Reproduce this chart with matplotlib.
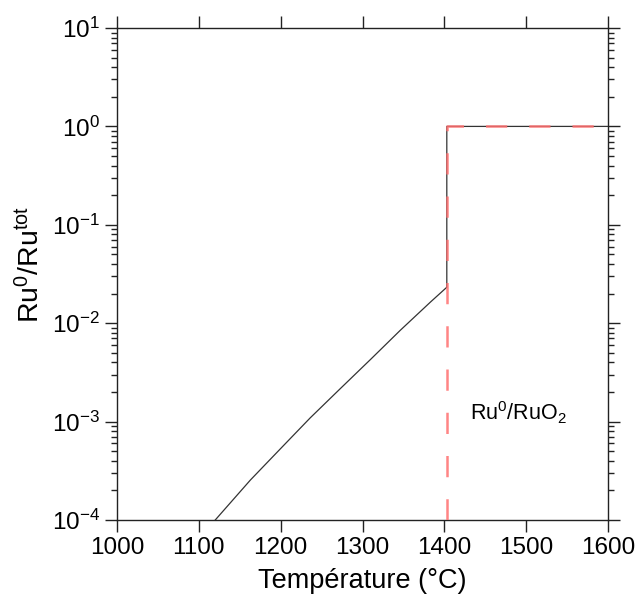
import matplotlib
matplotlib.use("Agg")
import matplotlib.pyplot as plt
import numpy as np

# Data
temp_curve = [1120, 1163, 1200, 1236, 1273, 1310, 1346, 1383, 1403, 1403, 1600]
ru_frac = [1.0e-4, 2.55e-4, 5.33e-4, 1.09e-3, 2.17e-3, 4.30e-3, 8.45e-3, 1.64e-2, 2.32e-2, 1.0, 1.0]

temp_boundary = [1403, 1403, 1600]
boundary_frac = [1.0e-4, 1.0, 1.0]

xticks = [1000, 1100, 1200, 1300, 1400, 1500, 1600]

plt.rcParams['font.family'] = ['Liberation Sans', 'DejaVu Sans']
plt.rcParams['mathtext.fontset'] = 'custom'
plt.rcParams['mathtext.rm'] = 'Liberation Sans'
plt.rcParams['mathtext.it'] = 'Liberation Sans:italic'
plt.rcParams['mathtext.bf'] = 'Liberation Sans:bold'
plt.rcParams['axes.unicode_minus'] = False

fig = plt.figure(figsize=(6.35, 5.96), dpi=100)
ax = fig.add_axes([0.1843, 0.1275, 0.7732, 0.8255])

ax.plot(temp_curve, ru_frac, color='#333333', lw=0.9, zorder=2)
ax.plot(temp_boundary, boundary_frac, color='#ff7070', alpha=0.85, lw=1.8,
        dashes=(8.5, 8.8), zorder=3)

ax.set_yscale('log')
ax.set_xlim(1000, 1600)
ax.set_ylim(1e-4, 1e1)
ax.set_xticks(xticks)
ax.set_xticklabels([str(t) for t in xticks])

ax.tick_params(which='both', direction='out', top=True, right=True,
               labelsize=17.5, width=1.0, color='#222222')
ax.tick_params(which='major', length=8.5, pad=4)
ax.tick_params(which='minor', length=4.3)
ax.tick_params(axis='x', which='minor', bottom=False, top=False)

for s in ax.spines.values():
    s.set_linewidth(1.0)
    s.set_color('#222222')

ax.set_xlabel('Température (°C)', fontsize=19.5)
ax.xaxis.set_label_coords(0.5, -0.098)
ax.set_ylabel('Ru$^{0}$/Ru$^{\\mathrm{tot}}$', fontsize=20.5)
ax.yaxis.set_label_coords(-0.147, 0.52)

ax.text(1431, 1.22e-3, 'Ru$^{0}$/RuO$_{2}$', fontsize=15.5, ha='left', va='center')

fig.savefig('out.png', dpi=100)
